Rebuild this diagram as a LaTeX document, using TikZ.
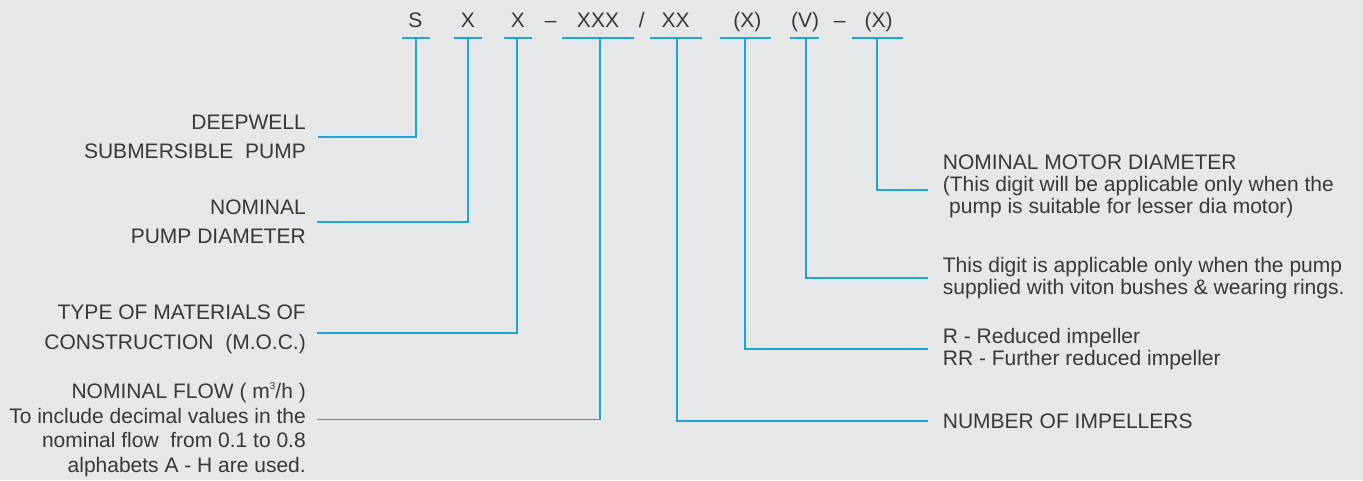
\documentclass[tikz,border=0pt]{standalone}
\usepackage{fontspec}
\setmainfont{Liberation Sans}
\usepackage{tikz}
\usetikzlibrary{calc,positioning}
\definecolor{bgc}{HTML}{E6E7E8}
\definecolor{linec}{HTML}{1FA3DD}
\definecolor{txtc}{HTML}{383838}
\tikzset{
  lnk/.style={linec,line width=1.7pt},
  code/.style={anchor=base,inner sep=0pt,text=txtc,font=\fontsize{21}{24}\selectfont},
  lbl/.style={inner sep=0pt,text=txtc,font=\fontsize{21}{#1}\selectfont},
  lft/.style={lbl=#1,anchor=north east,align=right},
  rgt/.style={lbl=#1,anchor=north west,align=left}
}
\begin{document}
\begin{tikzpicture}[x=1pt,y=-1pt]
\fill[bgc] (0,0) rectangle (1363,480);
\useasboundingbox (0,0) rectangle (1363,480);
\foreach \nm/\x/\txt in {s/415.4/S, p/467.8/X, m/517.8/X, da/550.6/\textendash, f/598/XXX, sl/641.9/\slash, i/675.7/XX, r/747.3/(X), v/805/(V), db/839.6/\textendash, d/878.5/(X)}
  \node[code] (c\nm) at (\x,27.7) {\txt};
\foreach \nm/\x/\hw/\tx in {s/416/14/415.7, p/468/14/468, m/518/14/517, f/598/36/600, i/675.6/26/676.7, r/745.3/25.7/745, v/804.7/14.7/805.8, d/877.2/25.7/876.8}{
  \draw[lnk] (\x-\hw,37.7) -- (\x+\hw,37.7);
  \coordinate (t\nm) at (\tx,37.7);
}
\node[lft=29] (deep) at (306,115) {DEEPWELL\\SUBMERSIBLE\ \ PUMP};
\node[lft=29] (pdia) at (306,200) {NOMINAL\\PUMP DIAMETER};
\node[lft=30] (moc) at (306,305) {TYPE OF MATERIALS OF\\CONSTRUCTION\ \ (M.O.C.)};
\node[lft=24.5] (flow) at (306,383.3) {NOMINAL FLOW ( m\smash{\raisebox{0.42em}{\fontsize{10}{10}\selectfont 3}}/h )\\To include decimal values in the\\nominal flow\ \ from 0.1 to 0.8\\alphabets A - H are used.};
\node[rgt=22] (mot) at (942.7,155) {NOMINAL MOTOR DIAMETER\\(This digit will be applicable only when the\\\hspace{0.3em}pump is suitable for lesser dia motor)};
\node[rgt=22] (vit) at (942.7,256.7) {This digit is applicable only when the pump\\supplied with viton bushes \& wearing rings.};
\node[rgt=22] (red) at (942.7,328.3) {R - Reduced impeller\\RR - Further reduced impeller};
\node[rgt=22] (imp) at (942.7,413.3) {NUMBER OF IMPELLERS};
\draw[lnk] (ts) |- ([xshift=12pt]deep.east);
\draw[lnk] (tp) |- ([xshift=11pt]pdia.east);
\draw[lnk] (tm) |- ([xshift=11pt,yshift=-3.6pt]moc.east);
\draw[lnk] (tf) |- ([xshift=11pt,yshift=10.6pt]flow.east);
\draw[lnk] (ti) |- ([xshift=-15pt]imp.west);
\draw[lnk] (tr) |- ([xshift=-15pt]red.west);
\draw[lnk] (tv) |- ([xshift=-15pt]vit.west);
\draw[lnk] (td) |- ([xshift=-15pt,yshift=-3.2pt]mot.west);
\end{tikzpicture}
\end{document}
